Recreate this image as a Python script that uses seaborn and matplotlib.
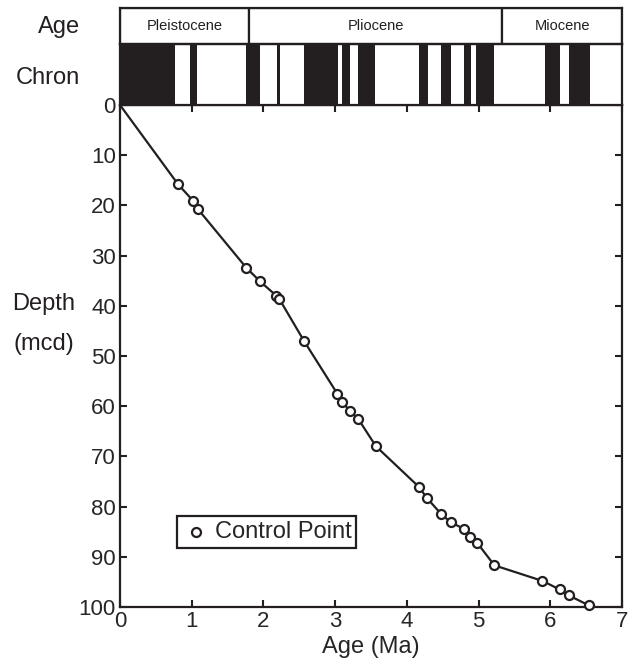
import numpy as np
import pandas as pd
import matplotlib
matplotlib.use('Agg')
import matplotlib.pyplot as plt
import seaborn as sns

# control points (age Ma, depth mcd)
age_ma = [0.81, 1.02, 1.09, 1.76, 1.95, 2.18, 2.22, 2.57, 3.03, 3.10, 3.21, 3.32,
          3.57, 4.17, 4.28, 4.48, 4.61, 4.79, 4.88, 4.98, 5.22, 5.89, 6.13, 6.26, 6.54]
depth_mcd = [15.8, 19.1, 20.8, 32.4, 35.1, 38.0, 38.6, 47.1, 57.5, 59.2, 61.0, 62.5,
             68.0, 76.1, 78.3, 81.5, 83.1, 84.4, 86.1, 87.2, 91.7, 94.8, 96.5, 97.7, 99.7]

# normal polarity intervals (black)
normal_start = [0.0, 0.98, 1.76, 2.19, 2.56, 3.09, 3.32, 4.17, 4.47, 4.79, 4.97, 5.93, 6.26]
normal_end = [0.77, 1.07, 1.95, 2.23, 3.04, 3.21, 3.56, 4.29, 4.62, 4.89, 5.22, 6.13, 6.56]

epochs = ['Pleistocene', 'Pliocene', 'Miocene']
epoch_bounds = [0.0, 1.8, 5.33, 7.0]

sns.set_style('ticks')
plt.rcParams['font.family'] = ['Liberation Sans', 'DejaVu Sans']

fig = plt.figure(figsize=(6.42, 6.70), dpi=100)
W, H = 642, 670
L, R = 120, 622
ax = fig.add_axes([L / W, 1 - 607 / H, (R - L) / W, (607 - 105) / H])
ax_chron = fig.add_axes([L / W, 1 - 105 / H, (R - L) / W, (105 - 44) / H])
ax_age = fig.add_axes([L / W, 1 - 44 / H, (R - L) / W, (44 - 8) / H])

# age-depth line from the origin
line_df = pd.DataFrame({'age': [0.0] + age_ma, 'depth': [0.0] + depth_mcd})
sns.lineplot(data=line_df, x='age', y='depth', ax=ax, color='#231f20', lw=1.6,
             sort=False, estimator=None)
pts = pd.DataFrame({'age': age_ma, 'depth': depth_mcd})
sns.scatterplot(data=pts, x='age', y='depth', ax=ax, marker='o', s=42,
                facecolor='white', edgecolor='#231f20', linewidth=1.6,
                label='Control Point', zorder=3, clip_on=False)

ax.set_xlim(0, 7)
ax.set_ylim(100, 0)
ax.set_xticks(range(0, 8))
ax.set_yticks(range(0, 101, 10))
ax.tick_params(direction='in', length=5, width=1.5, labelsize=16, color='#231f20',
               top=True, right=True, labeltop=False, labelright=False, pad=3)
for s in ax.spines.values():
    s.set_linewidth(1.6)
    s.set_color('#231f20')
ax.set_xlabel('Age (Ma)', fontsize=17, labelpad=3)
ax.set_ylabel('')
leg = ax.legend(loc='upper left', bbox_to_anchor=(0.113, 0.181), borderaxespad=0,
                fontsize=17, frameon=True, fancybox=False, framealpha=1,
                handletextpad=0.2, borderpad=0.2, handlelength=1.2)
leg.get_frame().set_edgecolor('#231f20')
leg.get_frame().set_linewidth(1.6)

# chron bar
for a, b in zip(normal_start, normal_end):
    ax_chron.axvspan(a, b, color='#231f20', lw=0)
ax_chron.set_xlim(0, 7)
ax_chron.set_ylim(0, 1)
ax_chron.set_xticks([])
ax_chron.set_yticks([])
for s in ax_chron.spines.values():
    s.set_linewidth(1.6)
    s.set_color('#231f20')

# epoch bar
for i, name in enumerate(epochs):
    a, b = epoch_bounds[i], epoch_bounds[i + 1]
    ax_age.axvspan(a, b, facecolor='white', edgecolor='#231f20', lw=1.6)
    ax_age.text((a + b) / 2, 0.5, name, ha='center', va='center', fontsize=10.5,
                color='#231f20')
ax_age.set_xlim(0, 7)
ax_age.set_ylim(0, 1)
ax_age.set_xticks([])
ax_age.set_yticks([])
for s in ax_age.spines.values():
    s.set_linewidth(1.6)
    s.set_color('#231f20')

fig.text(80 / W, 1 - 27 / H, 'Age', ha='right', va='center', fontsize=17, color='#231f20')
fig.text(80 / W, 1 - 78 / H, 'Chron', ha='right', va='center', fontsize=17, color='#231f20')
fig.text(44 / W, 1 - 304 / H, 'Depth', ha='center', va='center', fontsize=17, color='#231f20')
fig.text(44 / W, 1 - 344 / H, '(mcd)', ha='center', va='center', fontsize=17, color='#231f20')

fig.savefig('out.png', dpi=100)
